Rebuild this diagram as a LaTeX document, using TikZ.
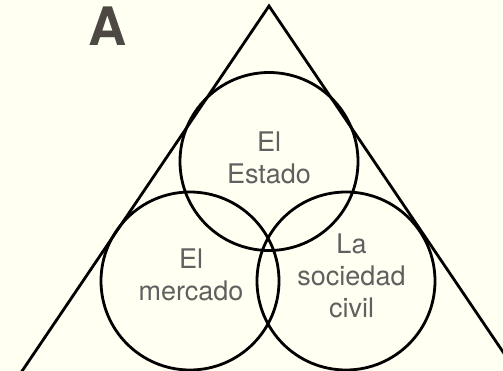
\documentclass[tikz,border=0pt]{standalone}
\usepackage{fontspec}
\setmainfont{TeX Gyre Heros}
\definecolor{paper}{RGB}{255,255,242}
\definecolor{labelgray}{RGB}{96,96,96}
\definecolor{lettergray}{RGB}{77,72,67}
\begin{document}
\begin{tikzpicture}[x=1pt,y=-1pt,
        ring/.style = {line width=2.8pt},
        lbl/.style = {font=\fontsize{27}{32}\selectfont, text=labelgray,
                      align=center, inner sep=0pt}]
            \fill[paper] (0,0) rectangle (503,371);
            \useasboundingbox (0,0) rectangle (503,371);
            \clip (0,0) rectangle (503,371);

            \coordinate (apex) at (269,6);
            \coordinate (baseL) at (16,380);
            \coordinate (baseR) at (522,380);
            \draw[ring, line join=miter] (baseL) -- (apex) -- (baseR);

            \coordinate (cEstado) at (269,161.5);
            \coordinate (cMercado) at (190,281);
            \coordinate (cSociedad) at (346,281);
            \draw[ring] (cEstado) circle (89pt);
            \draw[ring] (cMercado) circle (89pt);
            \draw[ring] (cSociedad) circle (89pt);

            \node[lbl] (estado) at (269,157.5) {El\\Estado};
            \node[lbl] (mercado) at (191,275) {El\\mercado};
            \node[lbl] (sociedad) at (351.5,275.5) {La\\sociedad\\civil};

            \node[anchor=base, inner sep=0pt, text=lettergray,
                  font=\fontsize{53}{60}\selectfont\bfseries] (panel) at (108,46) {A};
        \end{tikzpicture}
\end{document}
